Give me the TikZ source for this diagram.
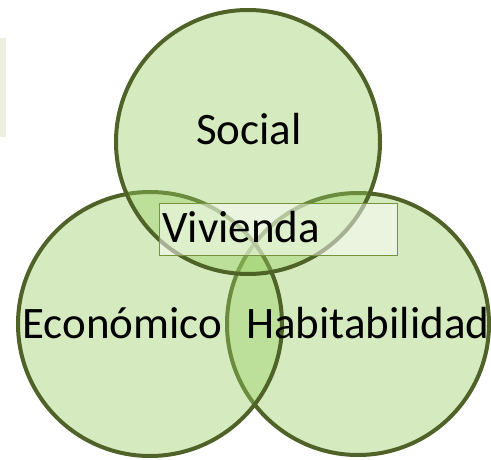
\documentclass[tikz,border=0pt]{standalone}
\usepackage{fontspec}
\setmainfont{Carlito}
\definecolor{vfill}{RGB}{150,205,95}
\definecolor{vline}{RGB}{79,98,40}
\definecolor{boxline}{RGB}{119,147,60}
\definecolor{sidebox}{RGB}{234,239,222}
\begin{document}
\begin{tikzpicture}[x=0.75pt,y=-0.75pt,
  venn/.style={circle, draw=vline, line width=3pt, fill=vfill, fill opacity=0.4, draw opacity=1, text opacity=1, minimum size=198pt, inner sep=0pt},
  lbl/.style={font=\fontsize{33.75}{40}\selectfont, inner sep=0pt, anchor=base west, text=black}]
\useasboundingbox (0,0) rectangle (491,459);
\node[fill=sidebox, minimum width=4.5pt, minimum height=74.25pt, inner sep=0pt, anchor=north west] (side) at (0,38) {};
\node[venn, minimum size=196.5pt] (hab) at (358,324) {};
\node[venn] (eco) at (150,324) {};
\node[venn] (soc) at (248,142) {};
\node[draw=boxline, line width=1.1pt, fill=white, fill opacity=0.5, draw opacity=1, minimum width=178.5pt, minimum height=39pt, inner sep=0pt, anchor=north west] (viv) at (159,203) {};
\node[lbl] (tsoc) at (196,145) {Social};
\node[lbl] (tviv) at (162,243) {Vivienda};
\node[lbl] (teco) at (22,338) {Económico};
\node[lbl] (thab) at (246,338) {Habitabilidad};
\end{tikzpicture}
\end{document}
